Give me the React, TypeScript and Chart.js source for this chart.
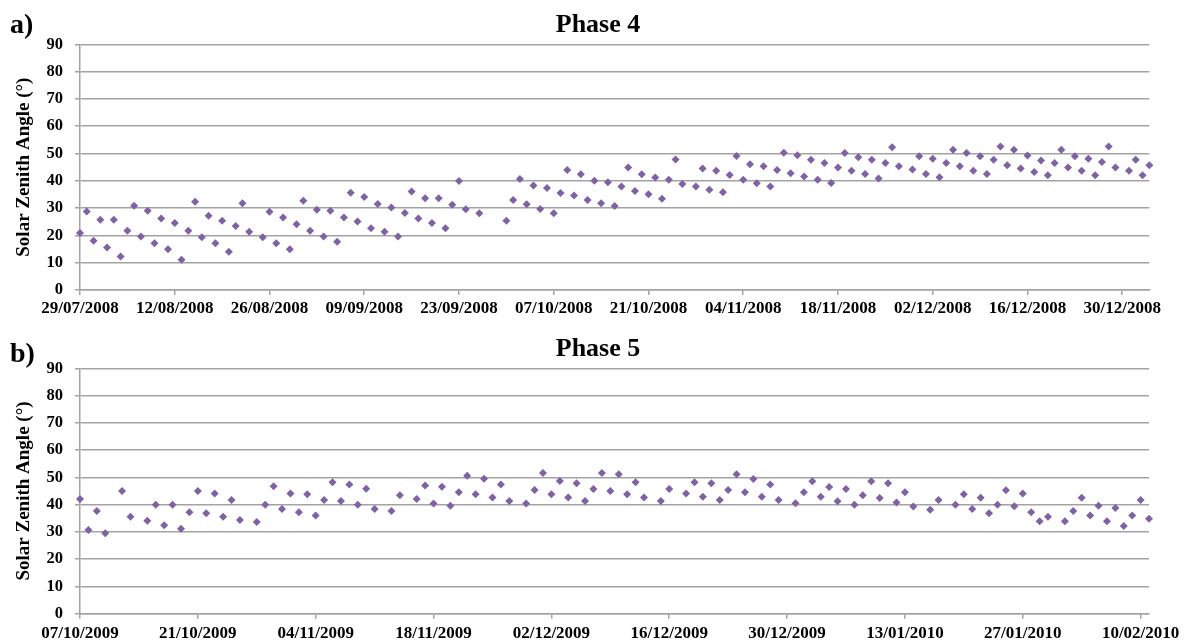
import React, { useEffect, useRef } from "react";
import { Chart, registerables } from "chart.js";

Chart.register(...registerables);

// ---------- Phase 4 (day offset from 29/07/2008) ----------
const phase4Days = [
  0, 1, 2, 3, 4, 5, 6, 7, 8, 9, 10, 11, 12, 13, 14, 15, 16, 17, 18, 19, 20, 21, 22, 23, 24, 25,
  27, 28, 29, 30, 31, 32, 33, 34, 35, 36, 37, 38, 39, 40, 41, 42, 43, 44, 45, 46, 47, 48, 49, 50,
  51, 52, 53, 54, 55, 56, 57, 59, 63, 64, 65, 66, 67, 68, 69, 70, 71, 72, 73, 74, 75, 76, 77, 78,
  79, 80, 81, 82, 83, 84, 85, 86, 87, 88, 89, 91, 92, 93, 94, 95, 96, 97, 98, 99, 100, 101, 102,
  103, 104, 105, 106, 107, 108, 109, 110, 111, 112, 113, 114, 115, 116, 117, 118, 119, 120, 121,
  123, 124, 125, 126, 127, 128, 129, 130, 131, 132, 133, 134, 135, 136, 137, 138, 139, 140, 141,
  142, 143, 144, 145, 146, 147, 148, 149, 150, 151, 152, 153, 155, 156, 157, 158,
];
const phase4Angles = [
  20.9, 28.8, 18.0, 25.7, 15.6, 25.7, 12.3, 21.7, 30.9, 19.6, 29.0, 17.1, 26.2, 14.9, 24.5, 11.1,
  21.7, 32.3, 19.3, 27.2, 17.1, 25.4, 14.0, 23.4, 31.8, 21.3,
  19.3, 28.7, 17.1, 26.6, 14.9, 24.1, 32.7, 21.7, 29.4, 19.6, 29.0, 17.7, 26.6, 35.6, 25.1, 34.1,
  22.6, 31.5, 21.3, 30.2, 19.6, 28.2, 36.1, 26.2,
  33.6, 24.5, 33.6, 22.6, 31.2, 39.9, 29.6, 28.1, 25.4, 33.0, 40.7, 31.4, 38.3, 29.7, 37.4, 28.1,
  35.5, 44.0, 34.6, 42.4, 33.0, 40.0, 31.8, 39.5,
  30.8, 37.9, 44.9, 36.3, 42.4, 35.1, 41.2, 33.4, 40.4, 47.8, 38.8, 37.9, 44.5, 36.7, 43.7, 35.8,
  42.1, 49.1, 40.4, 46.1, 39.1, 45.3, 37.9,
  44.0, 50.3, 42.8, 49.4, 41.6, 47.7, 40.4, 46.5, 39.2, 44.9, 50.2, 43.7, 48.6, 42.5, 47.7, 40.8,
  46.5, 52.3, 45.3,
  44.1, 49.0, 42.5, 48.1, 41.3, 46.5, 51.4, 45.3, 50.2, 43.7, 49.0, 42.5, 47.7, 52.6, 45.7, 51.4,
  44.5, 49.3, 43.2,
  47.4, 42.0, 46.5, 51.4, 44.9, 49.0, 43.7, 48.1, 42.0, 46.9, 52.6, 44.9, 43.7, 47.7, 42.0, 45.7,
];
const phase4TickLabels = [
  "29/07/2008", "12/08/2008", "26/08/2008", "09/09/2008", "23/09/2008", "07/10/2008",
  "21/10/2008", "04/11/2008", "18/11/2008", "02/12/2008", "16/12/2008", "30/12/2008",
];
const phase4LastDay = 158; // 03/01/2009

// ---------- Phase 5 (day offset from 07/10/2009) ----------
const phase5Days = [
  0, 1, 2, 3, 5, 6, 8, 9, 10, 11, 12, 13, 14, 15, 16, 17, 18, 19, 21, 22, 23, 24, 25, 26, 27, 28,
  29, 30, 31, 32, 33, 34, 35, 37, 38, 40, 41, 42, 43, 44, 45, 46, 47, 48, 49, 50, 51, 53, 54, 55,
  56, 57, 58, 59, 60, 61, 62, 63, 64, 65, 66, 67, 69, 70, 72, 73, 74, 75, 76, 77, 78, 79, 80, 81,
  82, 83, 85, 86, 87, 88, 89, 90, 91, 92, 93, 94, 95, 96, 97, 98, 99, 101, 102, 104, 105, 106,
  107, 108, 109, 110, 111, 112, 113, 114, 115, 117, 118, 119, 120, 121, 122, 123, 124, 125, 126,
  127,
];
const phase5Angles = [
  42.1, 30.7, 37.7, 29.5, 45.0, 35.6, 34.1, 40.0, 32.4, 40.0, 31.2, 37.2, 45.0, 36.8, 44.1, 35.6,
  41.7, 34.4, 33.6, 40.0, 46.7, 38.4, 44.1, 37.2, 43.8, 36.0,
  41.7, 48.2, 41.3, 47.4, 40.0, 45.8, 38.4, 37.7, 43.4, 42.1, 47.0, 40.4, 46.6, 39.6, 44.5, 50.6,
  43.8, 49.5, 42.6, 47.4, 41.3, 40.4, 45.4, 51.6,
  43.8, 48.7, 42.6, 47.8, 41.3, 45.7, 51.6, 45.0, 51.1, 43.8, 48.2, 42.6, 41.3, 45.7, 44.1, 48.2,
  42.9, 47.8, 41.7, 45.4, 51.1, 44.5, 49.4, 42.9,
  47.4, 41.7, 40.5, 44.5, 48.6, 42.9, 46.5, 41.2, 45.7, 40.0, 43.4, 48.6, 42.4, 47.8, 40.8, 44.5,
  39.3, 38.1, 41.7, 40.0, 43.8, 38.4,
  42.5, 36.8, 40.0, 45.3, 39.4, 44.1, 37.2, 33.9, 35.6, 33.9, 37.7, 42.5, 36.0, 39.6, 33.9, 38.8,
  32.2, 36.0, 41.7,
  34.8,
];
const phase5TickLabels = [
  "07/10/2009", "21/10/2009", "04/11/2009", "18/11/2009", "02/12/2009", "16/12/2009",
  "30/12/2009", "13/01/2010", "27/01/2010", "10/02/2010",
];
const phase5LastDay = 127; // 11/02/2010

const yAxisTitle = "Solar Zenith Angle (°)";
const FONT = "'Liberation Serif', 'Times New Roman', serif";
const GRID = "#a3a3a3";
const MARKER = "#7f62a3";

type PanelProps = {
  top: number;
  height: number;
  days: number[];
  angles: number[];
  tickLabels: string[];
  lastDay: number;
  plotTop: number;
  plotBottom: number;
  xLabelPad: number;
};

function Panel(p: PanelProps) {
  const ref = useRef<HTMLCanvasElement | null>(null);
  useEffect(() => {
    if (!ref.current) return;
    const chart = new Chart(ref.current, {
      type: "scatter",
      data: {
        datasets: [
          {
            data: p.days.map((d, i) => ({ x: d, y: p.angles[i] })),
            pointStyle: "rectRot",
            pointRadius: 4,
            pointBorderWidth: 0,
            backgroundColor: MARKER,
            borderColor: MARKER,
            clip: false as any,
          },
        ],
      },
      options: {
        responsive: false,
        animation: false,
        devicePixelRatio: 1,
        layout: { padding: { left: 0, right: 1184 - 1149.3, top: p.plotTop, bottom: 0 } },
        plugins: { legend: { display: false }, tooltip: { enabled: false }, title: { display: false } },
        scales: {
          x: {
            type: "linear",
            min: 0,
            max: p.lastDay,
            afterFit: (axis: any) => {
              axis.height = p.height - p.plotBottom;
            },
            grid: { drawOnChartArea: false, drawTicks: true, tickLength: 5, color: GRID, lineWidth: 1.5 },
            border: { display: true, color: GRID, width: 1.5 },
            ticks: {
              stepSize: 14,
              includeBounds: false,
              autoSkip: false,
              maxRotation: 0,
              minRotation: 0,
              padding: p.xLabelPad,
              color: "#000",
              font: { family: FONT, size: 17, weight: "bold" },
              callback: (v: any) => {
                const idx = Math.round(Number(v) / 14);
                return p.tickLabels[idx] ?? "";
              },
            },
          },
          y: {
            min: 0,
            max: 90,
            afterFit: (axis: any) => {
              axis.width = 80;
            },
            grid: { drawOnChartArea: true, drawTicks: true, tickLength: 5, color: GRID, lineWidth: 1.5 },
            border: { display: true, color: GRID, width: 1.5 },
            ticks: {
              stepSize: 10,
              padding: 12,
              color: "#000",
              font: { family: FONT, size: 16.5, weight: "bold" },
            },
            title: {
              display: true,
              text: yAxisTitle,
              color: "#000",
              padding: { top: 12.5, bottom: 0 },
              font: { family: FONT, size: 19, weight: "bold" },
            },
          },
        },
      } as any,
    });
    return () => chart.destroy();
  }, []);
  return (
    <canvas
      ref={ref}
      width={1184}
      height={p.height}
      style={{ position: "absolute", left: 0, top: p.top, width: 1184, height: p.height }}
    />
  );
}

const textBase: React.CSSProperties = {
  position: "absolute",
  fontFamily: FONT,
  fontWeight: "bold",
  color: "#000",
  whiteSpace: "nowrap",
};

export default function App() {
  return (
    <div
      style={{
        position: "absolute",
        left: 0,
        top: 0,
        width: 1184,
        height: 641,
        background: "#fff",
        overflow: "hidden",
      }}
    >
      <Panel
        top={0}
        height={320}
        days={phase4Days}
        angles={phase4Angles}
        tickLabels={phase4TickLabels}
        lastDay={phase4LastDay}
        plotTop={44.3}
        plotBottom={290}
        xLabelPad={3}
      />
      <Panel
        top={320}
        height={321}
        days={phase5Days}
        angles={phase5Angles}
        tickLabels={phase5TickLabels}
        lastDay={phase5LastDay}
        plotTop={48.3}
        plotBottom={293.7}
        xLabelPad={4.4}
      />
      <div style={{ ...textBase, left: 10, top: 10, fontSize: 28, lineHeight: "28px" }}>a)</div>
      <div style={{ ...textBase, left: 10, top: 339, fontSize: 28, lineHeight: "28px" }}>b)</div>
      <div
        style={{ ...textBase, left: 0, width: 1196, textAlign: "center", top: 8.5, fontSize: 26, lineHeight: "30px" }}
      >
        Phase 4
      </div>
      <div
        style={{ ...textBase, left: 0, width: 1196, textAlign: "center", top: 333, fontSize: 26, lineHeight: "30px" }}
      >
        Phase 5
      </div>
    </div>
  );
}
